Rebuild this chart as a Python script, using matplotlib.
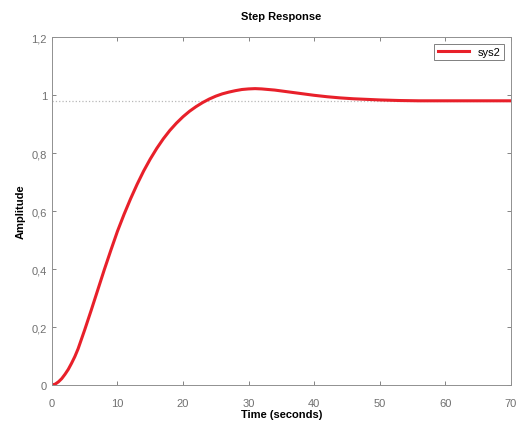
import matplotlib
matplotlib.use("Agg")
import matplotlib.pyplot as plt
from matplotlib.ticker import FuncFormatter

plt.rcParams['font.family'] = ['Liberation Sans', 'DejaVu Sans']

# step response
t = [0, 0.5, 1, 1.5, 2, 2.5, 3, 3.5, 4, 5, 6, 7, 8, 9, 10, 11, 12, 13, 14,
     15, 16, 17, 18, 19, 20, 21, 22, 23, 24, 25, 26, 27, 28, 29, 30, 31, 32,
     34, 36, 38, 40, 42, 44, 46, 48, 50, 53, 56, 60, 65, 70]
amp = [0, 0.003, 0.011, 0.022, 0.037, 0.054, 0.075, 0.098, 0.125, 0.19,
       0.258, 0.328, 0.398, 0.465, 0.53, 0.588, 0.642, 0.692, 0.738, 0.779,
       0.816, 0.849, 0.878, 0.903, 0.925, 0.944, 0.960, 0.974, 0.986, 0.996,
       1.004, 1.010, 1.015, 1.019, 1.021, 1.022, 1.021, 1.017, 1.011, 1.005,
       0.999, 0.994, 0.990, 0.987, 0.985, 0.983, 0.981, 0.980, 0.980, 0.980,
       0.980]
steady = 0.981
xticks = [0, 10, 20, 30, 40, 50, 60, 70]
yticks = [0, 0.2, 0.4, 0.6, 0.8, 1.0, 1.2]

fig = plt.figure(figsize=(5.19, 4.27), dpi=100)
ax = fig.add_axes((0.100, 0.096, 0.884, 0.815))

ax.axhline(steady, color='#b8b8b8', linestyle=':', linewidth=0.9)
ax.plot(t, amp, color='#e8202a', linewidth=2.2, label='sys2')

ax.set_xlim(0, 70)
ax.set_ylim(0, 1.2)
ax.set_xticks(xticks)
ax.set_yticks(yticks)
ax.yaxis.set_major_formatter(FuncFormatter(lambda v, p: ('%g' % v).replace('.', ',')))
ax.tick_params(direction='in', top=True, right=True, length=3, width=0.6,
               colors='#707070', labelsize=8)
ax.tick_params(axis='x', pad=9)
for s in ax.spines.values():
    s.set_color('#909090')
    s.set_linewidth(0.7)

ax.set_title('Step Response', fontsize=8, fontweight='bold', pad=13)
ax.set_xlabel('Time (seconds)', fontsize=8, fontweight='bold', labelpad=1)
ax.set_ylabel('Amplitude', fontsize=8, fontweight='bold', labelpad=4)

leg = ax.legend(loc='upper right', fontsize=8, frameon=True, fancybox=False,
                handlelength=2.8, borderpad=0.3, borderaxespad=0.6)
leg.get_frame().set_edgecolor('#606060')
leg.get_frame().set_linewidth(0.7)

fig.savefig('out.png', dpi=100)
